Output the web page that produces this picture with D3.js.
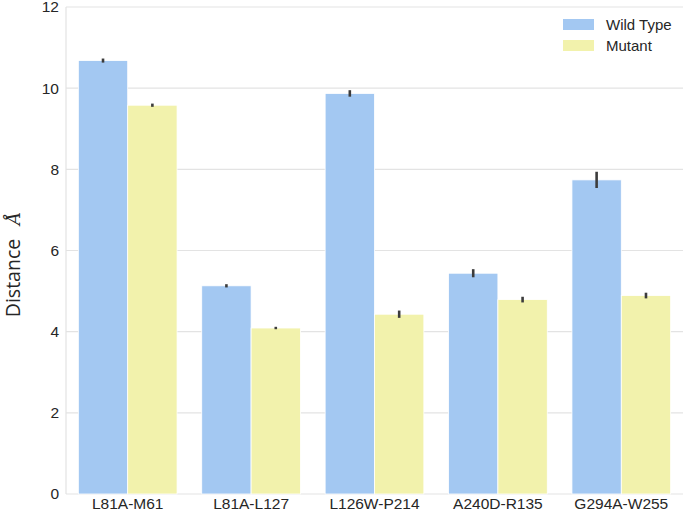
<!DOCTYPE html>
<html><head><meta charset="utf-8">
<script src="https://cdn.jsdelivr.net/npm/d3@7"></script>
<style>body{margin:0;background:#fff}</style>
</head><body>
<svg id="c" width="685" height="511"></svg>
<script>
const categories = ["L81A-M61","L81A-L127","L126W-P214","A240D-R135","G294A-W255"];
const seriesNames = ["Wild Type","Mutant"];
const wildType = [10.68, 5.13, 9.87, 5.44, 7.74];
const wildTypeErr = [0.05, 0.04, 0.08, 0.1, 0.2];
const mutant = [9.58, 4.09, 4.43, 4.79, 4.89];
const mutantErr = [0.04, 0.03, 0.09, 0.07, 0.07];
const yTicks = [0,2,4,6,8,10,12];
const colors = ["#a3c8f2","#f2f2ac"];

const svg = d3.select("#c");
const m = {l:66, r:2, t:7, b:17};
const W = 685, H = 511;
const x = d3.scaleBand().domain(categories).range([m.l, W - m.r]).paddingInner(0).paddingOuter(0);
const y = d3.scaleLinear().domain([0,12]).range([H - m.b, m.t]);

// grid
svg.append("g").selectAll("line").data(yTicks).join("line")
  .attr("x1", m.l).attr("x2", W - m.r)
  .attr("y1", d=>y(d)).attr("y2", d=>y(d))
  .attr("stroke", "#e3e3e3").attr("stroke-width", 1.2);
svg.append("line").attr("x1", m.l).attr("x2", m.l).attr("y1", m.t).attr("y2", y(0)).attr("stroke","#e3e3e3").attr("stroke-width",1.2);

const series = [wildType, mutant];
const errs = [wildTypeErr, mutantErr];
const bw = x.bandwidth() * 0.8 / 2;
series.forEach((vals, si) => {
  const g = svg.append("g");
  g.selectAll("rect").data(vals).join("rect")
    .attr("x", (d,i)=> x(categories[i]) + x.bandwidth()*0.1 + si*bw)
    .attr("width", bw)
    .attr("y", d=>y(d)).attr("height", d=>y(0)-y(d))
    .attr("fill", colors[si]).attr("stroke", "#fff").attr("stroke-width", 0.8);
  g.selectAll("line").data(vals).join("line")
    .attr("x1", (d,i)=> x(categories[i]) + x.bandwidth()*0.1 + si*bw + bw/2)
    .attr("x2", (d,i)=> x(categories[i]) + x.bandwidth()*0.1 + si*bw + bw/2)
    .attr("y1", (d,i)=> y(d - errs[si][i])).attr("y2", (d,i)=> y(d + errs[si][i]))
    .attr("stroke", "#3c3c3c").attr("stroke-width", 2.6);
});

// y tick labels
svg.append("g").selectAll("text").data(yTicks).join("text")
  .attr("x", m.l - 7).attr("y", d=>y(d)).attr("dy","0.35em")
  .attr("text-anchor","end").attr("font-family","Liberation Sans, Arial, sans-serif")
  .attr("font-size", 15.5).attr("fill","#262626").text(d=>d);
// x tick labels
svg.append("g").selectAll("text").data(categories).join("text")
  .attr("x", d=>x(d)+x.bandwidth()/2).attr("y", H - 2)
  .attr("text-anchor","middle").attr("font-family","Liberation Sans, Arial, sans-serif")
  .attr("font-size", 15.5).attr("fill","#262626").text(d=>d);

// y label
const yl = svg.append("text").attr("transform", `translate(20,${(y(0)+y(12))/2 + 14}) rotate(-90)`)
  .attr("text-anchor","middle").attr("font-family","Open Sans, sans-serif").attr("font-size",19.5).attr("fill","#262626");
yl.append("tspan").text("Distance");
yl.append("tspan").attr("dx", 14).attr("font-family","DejaVu Serif, serif").attr("font-style","italic").attr("font-size",18).text("Å");

// legend
const lg = svg.append("g").attr("transform","translate(563,19)");
seriesNames.forEach((n,i)=>{
  lg.append("rect").attr("x",0).attr("y",i*21).attr("width",31).attr("height",11).attr("fill",colors[i]);
  lg.append("text").attr("x",43).attr("y",i*21+5.5).attr("dy","0.35em")
    .attr("font-family","Liberation Sans, Arial, sans-serif").attr("font-size",15).attr("fill","#262626").text(n);
});
</script>
</body></html>
